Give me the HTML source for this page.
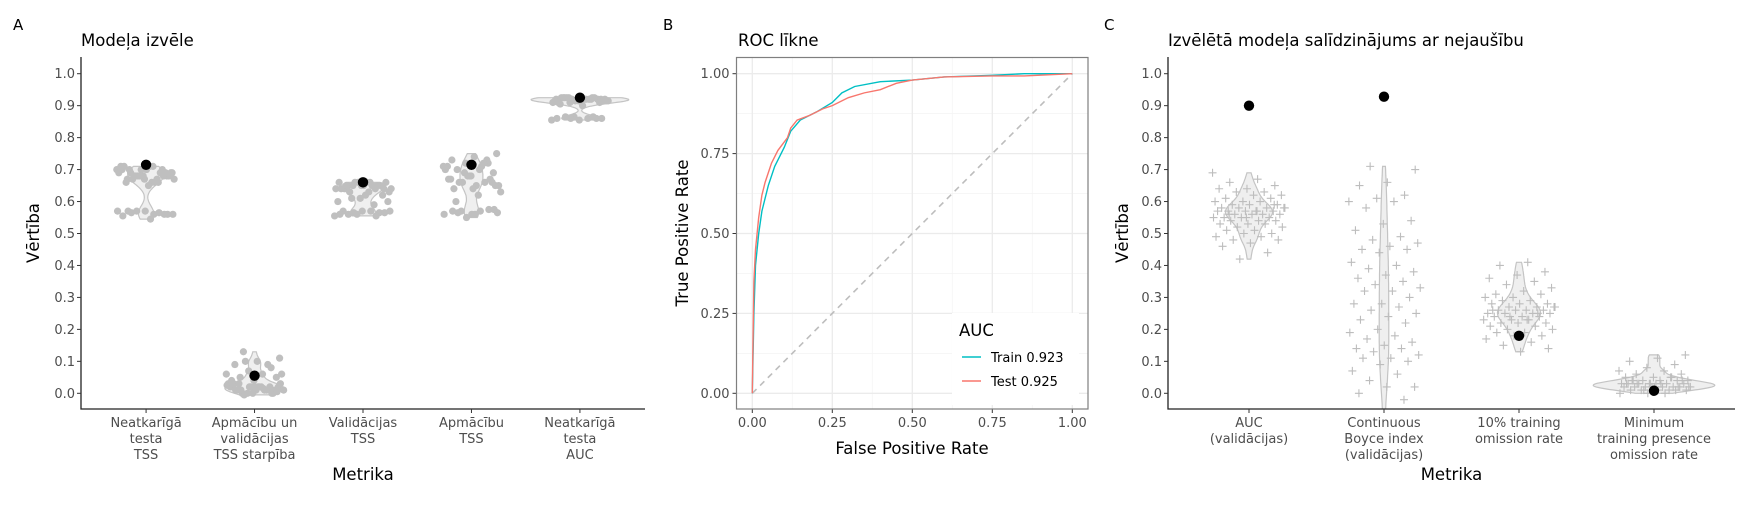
<!DOCTYPE html>
<html><head><meta charset="utf-8"><style>
body{margin:0;background:#fff;}
svg text{font-family:"DejaVu Sans","Liberation Sans",sans-serif;}
.tick{font-size:13px;fill:#4d4d4d;}
.ttl{font-size:16.5px;fill:#000;}
</style></head><body>
<svg id="chart" width="1750" height="500" xmlns="http://www.w3.org/2000/svg"></svg>
<script>
// ---- Panel A data ----
const aCategories = [["Neatkarīgā","testa","TSS"],["Apmācību un","validācijas","TSS starpība"],["Validācijas","TSS"],["Apmācību","TSS"],["Neatkarīgā","testa","AUC"]];
const aValues1 = [0.70,0.71,0.69,0.68,0.67,0.70,0.66,0.68,0.69,0.71,0.67,0.68,0.70,0.69,0.66,0.67,0.68,0.70,0.71,0.69,0.68,0.67,0.66,0.70,0.69,0.68,0.71,0.67,0.68,0.69,0.65,0.66,0.70,0.68,0.57,0.56,0.565,0.56,0.57,0.555,0.565,0.57,0.56,0.545,0.57,0.56];
const aValues2 = [0.13,0.11,0.10,0.09,0.08,0.07,0.06,0.06,0.05,0.05,0.04,0.04,0.09,0.10,0.06,0.02,0.01,0.0,0.02,0.03,0.01,0.0,0.02,0.01,0.03,0.02,0.0,0.01,0.02,0.03,0.01,0.0,0.02,0.01,-0.005,0.03,0.02,0.01,0.0,0.02,0.025,0.015,0.01,0.005,0.02,0.03];
const aValues3 = [0.66,0.65,0.64,0.65,0.66,0.64,0.65,0.63,0.66,0.64,0.65,0.66,0.64,0.65,0.63,0.66,0.65,0.64,0.65,0.66,0.64,0.63,0.65,0.62,0.61,0.60,0.59,0.61,0.60,0.62,0.57,0.565,0.56,0.555,0.57,0.56,0.565,0.57,0.56,0.555,0.565,0.57];
const aValues4 = [0.75,0.74,0.73,0.72,0.72,0.71,0.70,0.70,0.69,0.68,0.67,0.66,0.66,0.65,0.65,0.64,0.67,0.68,0.70,0.71,0.66,0.65,0.64,0.67,0.73,0.69,0.63,0.62,0.60,0.66,0.68,0.71,0.72,0.57,0.565,0.56,0.57,0.575,0.55,0.56,0.57,0.565,0.575,0.56];
const aValues5 = [0.925,0.92,0.915,0.92,0.925,0.91,0.915,0.92,0.925,0.92,0.915,0.91,0.92,0.925,0.915,0.92,0.91,0.925,0.92,0.915,0.92,0.925,0.91,0.92,0.915,0.92,0.925,0.92,0.9,0.905,0.86,0.865,0.855,0.86,0.865,0.86,0.855,0.86,0.865,0.86];
const aSelected = [0.715,0.055,0.66,0.715,0.925];
const aTicks = ["0.0","0.1","0.2","0.3","0.4","0.5","0.6","0.7","0.8","0.9","1.0"];
// ---- Panel B data ----
const trainFPR = [0,0.002,0.005,0.01,0.02,0.03,0.05,0.07,0.1,0.12,0.15,0.2,0.25,0.28,0.32,0.4,0.5,0.6,0.75,0.85,1];
const trainTPR = [0,0.1,0.25,0.4,0.5,0.57,0.65,0.71,0.77,0.82,0.855,0.88,0.91,0.94,0.96,0.975,0.98,0.99,0.995,1.0,1];
const testFPR = [0,0.002,0.005,0.01,0.02,0.03,0.04,0.06,0.08,0.11,0.12,0.14,0.18,0.22,0.25,0.3,0.35,0.4,0.45,0.5,0.6,0.75,0.85,1];
const testTPR = [0,0.15,0.35,0.45,0.55,0.62,0.66,0.72,0.76,0.8,0.83,0.855,0.87,0.89,0.9,0.925,0.94,0.95,0.97,0.98,0.99,0.993,0.993,1];
const bTicks = ["0.00","0.25","0.50","0.75","1.00"];
const bLegend = ["Train 0.923","Test 0.925"];
// ---- Panel C data ----
const cCategories = [["AUC","(validācijas)"],["Continuous","Boyce index","(validācijas)"],["10% training","omission rate"],["Minimum","training presence","omission rate"]];
const cValues1 = [0.69,0.67,0.66,0.65,0.64,0.64,0.63,0.63,0.62,0.62,0.61,0.61,0.60,0.60,0.60,0.59,0.59,0.59,0.58,0.58,0.58,0.58,0.57,0.57,0.57,0.57,0.57,0.56,0.56,0.56,0.56,0.55,0.55,0.55,0.55,0.54,0.54,0.54,0.53,0.53,0.53,0.52,0.52,0.51,0.51,0.50,0.50,0.49,0.49,0.48,0.48,0.47,0.46,0.44,0.42,0.58,0.57,0.56,0.59,0.55];
const cValues2 = [0.71,0.70,0.66,0.65,0.62,0.61,0.60,0.60,0.58,0.54,0.53,0.51,0.49,0.48,0.47,0.46,0.45,0.45,0.44,0.41,0.40,0.39,0.38,0.37,0.36,0.35,0.34,0.33,0.32,0.32,0.30,0.28,0.28,0.27,0.26,0.25,0.24,0.23,0.22,0.20,0.19,0.18,0.17,0.16,0.15,0.14,0.14,0.13,0.12,0.11,0.11,0.10,0.09,0.07,0.06,0.04,0.02,0.02,0.0,-0.02,-0.06];
const cValues3 = [0.41,0.40,0.38,0.37,0.36,0.35,0.34,0.33,0.32,0.31,0.31,0.30,0.30,0.29,0.29,0.28,0.28,0.28,0.27,0.27,0.27,0.26,0.26,0.26,0.26,0.25,0.25,0.25,0.25,0.24,0.24,0.24,0.23,0.23,0.23,0.22,0.22,0.22,0.21,0.21,0.20,0.20,0.19,0.19,0.18,0.18,0.17,0.16,0.15,0.14,0.13,0.26,0.25,0.24,0.27,0.23];
const cValues4 = [0.12,0.11,0.10,0.09,0.08,0.07,0.07,0.06,0.06,0.05,0.05,0.05,0.04,0.04,0.04,0.04,0.04,0.03,0.03,0.03,0.03,0.03,0.03,0.03,0.02,0.02,0.02,0.02,0.02,0.02,0.02,0.02,0.01,0.01,0.01,0.01,0.01,0.01,0.0,0.0,0.0,0.03,0.04,0.02,0.03,0.05,0.01,0.02,0.03,0.04,0.02,0.03];
const cSelected = [0.90,0.928,0.18,0.008];

const NS="http://www.w3.org/2000/svg";
const svg=document.getElementById('chart');
function mk(tag,attrs,parent){const e=document.createElementNS(NS,tag);for(const k in attrs)e.setAttribute(k,attrs[k]);(parent||svg).appendChild(e);return e;}
function txt(s,x,y,cls,anchor,parent){const t=mk('text',{x:x,y:y,class:cls,'text-anchor':anchor||'start'},parent);t.textContent=s;return t;}

// common y scale for A and C
const Y0=393.3, Ypx=319.6;
const yv = v => Y0 - v*Ypx;

function kde(vals){
  const n=vals.length; const m=vals.reduce((a,b)=>a+b,0)/n;
  const sd=Math.sqrt(vals.reduce((a,b)=>a+(b-m)*(b-m),0)/(n-1));
  const s=[...vals].sort((a,b)=>a-b); const q=p=>{const h=(n-1)*p,l=Math.floor(h);return s[l]+(s[Math.min(l+1,n-1)]-s[l])*(h-l);};
  const iqr=q(0.75)-q(0.25); let bw=0.9*Math.min(sd, iqr>0?iqr/1.34:sd)*Math.pow(n,-0.2);
  const lo=s[0],hi=s[n-1],pts=[];
  for(let i=0;i<=80;i++){const y=lo+(hi-lo)*i/80;let d=0;for(const v of vals){const z=(y-v)/bw;d+=Math.exp(-0.5*z*z);}pts.push([y,d/(n*bw*Math.sqrt(2*Math.PI))]);}
  return pts;
}

function classicPanel(name,groups,cats,selected,x0,x1,clipId,pointShape,catLabelsName){
  const g=mk('g',{});
  
  
  const n=groups.length, sp=(x1-x0)/(n+0.2), xc=i=>x0+sp*(0.6+i);
  mk('clipPath',{id:clipId},g).appendChild(document.createElementNS(NS,'rect'));
  const cr=g.querySelector('clipPath rect');cr.setAttribute('x',x0);cr.setAttribute('y',57);cr.setAttribute('width',x1-x0);cr.setAttribute('height',409-57);
  const plot=mk('g',{'clip-path':'url(#'+clipId+')'},g);
  const dens=groups.map(kde); const mx=Math.max(...dens.map(d=>Math.max(...d.map(p=>p[1]))));
  const half=0.45*sp;
  groups.forEach((vals,i)=>{
    const d=dens[i];
    let path='M'+d.map(p=>(xc(i)+p[1]/mx*half).toFixed(1)+','+yv(p[0]).toFixed(1)).join('L');
    path+='L'+d.slice().reverse().map(p=>(xc(i)-p[1]/mx*half).toFixed(1)+','+yv(p[0]).toFixed(1)).join('L')+'Z';
    const v=mk('path',{d:path,fill:'#efefef',stroke:'#c4c4c4','stroke-width':1.2},plot);
    
    
    vals.forEach((val,j)=>{
      const jx=((j*0.618034+0.31*i)%1*2-1)*sp*0.27; const x=xc(i)+jx, y=yv(val);
      let p;
      if(pointShape==='dot'){p=mk('circle',{cx:x,cy:y,r:3.6,fill:'#bfbfbf'},plot);}
      else{p=mk('path',{d:`M${x-4},${y}H${x+4}M${x},${y-4}V${y+4}`,stroke:'#bdbdbd','stroke-width':1.1,fill:'none'},plot);}
      
      
    });
  });
  selected.forEach((v,i)=>{
    const c=mk('circle',{cx:xc(i),cy:yv(v),r:5.2,fill:'#000'},plot);
    
    
  });
  // axes
  const ax=mk('path',{d:`M${x0},57V409H${x1}`,stroke:'#222','stroke-width':1.3,fill:'none'},g);
  
  
  aTicks.forEach((t,k)=>{const y=yv(k/10);mk('line',{x1:x0-4,x2:x0,y1:y,y2:y,stroke:'#333'},g);
    const tl=txt(t,x0-6,y+4.5,'tick','end',g);
    
    });
  cats.forEach((lines,i)=>{mk('line',{x1:xc(i),x2:xc(i),y1:409,y2:413,stroke:'#333'},g);
    lines.forEach((l,k)=>{const tl=txt(l,xc(i),427+k*16,'tick','middle',g);
      
      });});
  const xt=txt('Metrika',(x0+x1)/2,480,'ttl','middle',g);
  
  
  return g;
}

// Panel A
classicPanel('panel-a-model-selection',[aValues1,aValues2,aValues3,aValues4,aValues5],aCategories,aSelected,81,645,'clipA','dot','x-tick-label');
// Panel C
classicPanel('panel-c-null-comparison',[cValues1,cValues2,cValues3,cValues4],cCategories,cSelected,1168,1735,'clipC','plus','x-tick-label');

// Panel labels and titles
[['A',13,30,'panel-label-a'],['B',663,30,'panel-label-b'],['C',1104,30,'panel-label-c']].forEach(a=>{const t=txt(a[0],a[1],a[2],'ttl','start');t.style.fontSize='15px';
  
  });
[['Modeļa izvēle',81,'panel-a-title'],['ROC līkne',738,'panel-b-title'],['Izvēlētā modeļa salīdzinājums ar nejaušību',1168,'panel-c-title']].forEach(a=>{const t=txt(a[0],a[1],46,'ttl','start');
  
  });
[['Vērtība',39,'panel-a-y-axis-title'],['True Positive Rate',688,'panel-b-y-axis-title'],['Vērtība',1128,'panel-c-y-axis-title']].forEach(a=>{const t=txt(a[0],0,0,'ttl','middle');t.setAttribute('transform',`translate(${a[1]},233) rotate(-90)`);
  
  });

// Panel B
(function(){
  const g=mk('g',{});
  
  
  const X0=752.3,XP=320,BY0=393.3,YP=319.6;
  const sx=v=>X0+v*XP, sy=v=>BY0-v*YP;
  const L=736.5,R=1088,T=57.5,B=409;
  for(let k=0;k<4;k++){const v=0.125+k*0.25;
    mk('line',{x1:sx(v),x2:sx(v),y1:T,y2:B,stroke:'#f4f4f4','stroke-width':0.8},g);
    mk('line',{x1:L,x2:R,y1:sy(v),y2:sy(v),stroke:'#f4f4f4','stroke-width':0.8},g);}
  bTicks.forEach((t,k)=>{const v=k*0.25;
    mk('line',{x1:sx(v),x2:sx(v),y1:T,y2:B,stroke:'#ebebeb','stroke-width':1.3},g);
    mk('line',{x1:L,x2:R,y1:sy(v),y2:sy(v),stroke:'#ebebeb','stroke-width':1.3},g);
    mk('line',{x1:L-4,x2:L,y1:sy(v),y2:sy(v),stroke:'#333'},g);
    mk('line',{x1:sx(v),x2:sx(v),y1:B,y2:B+4,stroke:'#333'},g);
    const yl=txt(t,L-7,sy(v)+4.5,'tick','end',g);
    
    
    const xl=txt(t,sx(v),427,'tick','middle',g);
    
    });
  const diag=mk('line',{x1:sx(0),y1:sy(0),x2:sx(1),y2:sy(1),stroke:'#bdbdbd','stroke-width':1.6,'stroke-dasharray':'6,5'},g);
  
  
  const tr=mk('polyline',{points:trainFPR.map((f,i)=>sx(f)+','+sy(trainTPR[i])).join(' '),fill:'none',stroke:'#00BFC4','stroke-width':1.4},g);
  
  
  const te=mk('polyline',{points:testFPR.map((f,i)=>sx(f)+','+sy(testTPR[i])).join(' '),fill:'none',stroke:'#F8766D','stroke-width':1.4},g);
  
  
  const border=mk('rect',{x:L,y:T,width:R-L,height:B-T,fill:'none',stroke:'#7f7f7f','stroke-width':1.2},g);
  
  
  const lg=mk('g',{},g);
  
  
  mk('rect',{x:952,y:313,width:127,height:92,fill:'#fff'},lg);
  const lt=txt('AUC',959,336,'ttl','start',lg);
  
  
  const cols=['#00BFC4','#F8766D'];
  bLegend.forEach((s,k)=>{const y=357+k*24;
    mk('line',{x1:962,x2:981,y1:y,y2:y,stroke:cols[k],'stroke-width':1.4},lg);
    const e=txt(s,991,y+5,'tick','start',lg);e.style.fill='#000';
    
    });
  const xt=txt('False Positive Rate',912,454,'ttl','middle',g);
  
  
})();
</script>
</body></html>
